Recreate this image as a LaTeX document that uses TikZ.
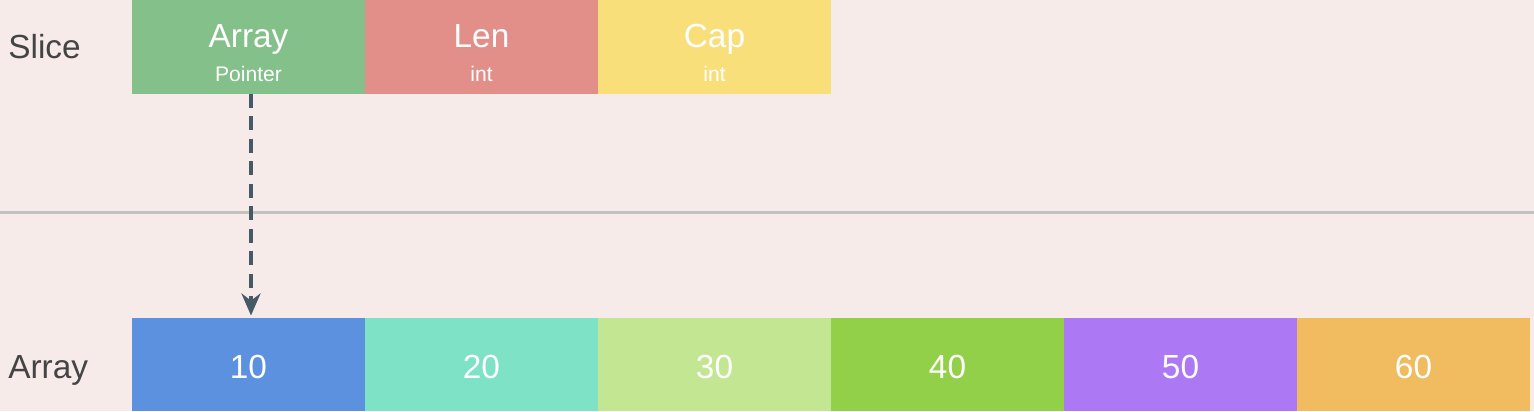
\documentclass[tikz,border=0pt]{standalone}
\usepackage{fontspec}
\setmainfont{Liberation Sans}
\usepackage{xcolor}
\usetikzlibrary{arrows.meta, positioning, calc}

\definecolor{bgpink}{HTML}{F6EBE9}
\definecolor{ptrgreen}{HTML}{84C08A}
\definecolor{lenred}{HTML}{E28F8A}
\definecolor{capyellow}{HTML}{F8DF7A}
\definecolor{elblue}{HTML}{5B91DE}
\definecolor{elteal}{HTML}{7DE2C6}
\definecolor{ellime}{HTML}{C3E693}
\definecolor{elgreen}{HTML}{93D04A}
\definecolor{elpurple}{HTML}{AD78F3}
\definecolor{elorange}{HTML}{F1BB5F}
\definecolor{arrowgray}{HTML}{455A64}
\definecolor{rulegray}{HTML}{C2C2C2}
\definecolor{labelgray}{HTML}{444444}

\begin{document}
\begin{tikzpicture}[
    node distance=0cm,
    cell/.style={rectangle, draw=none, inner sep=0pt, outer sep=0pt, minimum width=4.66cm, minimum height=1.87cm},
    maintext/.style={text=white, font=\fontsize{19}{21}\selectfont, inner sep=0pt, anchor=base},
    subtext/.style={text=white, font=\fontsize{12}{14}\selectfont, inner sep=0pt, anchor=base},
    rowlabel/.style={text=labelgray, font=\fontsize{19}{21}\selectfont, inner sep=0pt, anchor=base west},
    pointer/.style={-{Stealth[length=0.44cm, width=0.38cm]}, draw=arrowgray, line width=0.085cm, dash pattern=on 0.28cm off 0.17cm}
]

    % --- 背景 ---
    \fill [bgpink] (0,0) rectangle (30.68,8.22);
    \useasboundingbox (0,0) rectangle (30.68,8.22);

    % --- Slice 结构 ---
    \node [rowlabel] (slicelbl) at (0.16,7.06) {Slice};
    \node [cell, fill=ptrgreen] (sarr) at (4.97,7.28) {};
    \node [cell, fill=lenred] (slen) [right=of sarr] {};
    \node [cell, fill=capyellow] (scap) [right=of slen] {};

    \node [maintext] (sarrtxt) at ([yshift=-0.02cm]sarr.center) {Array};
    \node [subtext] (sarrsub) at ([yshift=-0.70cm]sarr.center) {Pointer};
    \node [maintext] (slentxt) at ([yshift=-0.02cm]slen.center) {Len};
    \node [subtext] (slensub) at ([yshift=-0.70cm]slen.center) {int};
    \node [maintext] (scaptxt) at ([yshift=-0.02cm]scap.center) {Cap};
    \node [subtext] (scapsub) at ([yshift=-0.70cm]scap.center) {int};

    % 分隔线
    \coordinate (ruleL) at (0,3.98);
    \coordinate (ruleR) at (30.68,3.98);
    \draw [rulegray, line width=0.06cm] (ruleL) -- (ruleR);

    % --- 底层数组 ---
    \node [rowlabel] (arrlbl) at (0.16,0.66) {Array};
    \node [cell, fill=elblue] (e10) at (4.97,0.935) {};
    \node [cell, fill=elteal] (e20) [right=of e10] {};
    \node [cell, fill=ellime] (e30) [right=of e20] {};
    \node [cell, fill=elgreen] (e40) [right=of e30] {};
    \node [cell, fill=elpurple] (e50) [right=of e40] {};
    \node [cell, fill=elorange] (e60) [right=of e50] {};

    \node [maintext] at ([yshift=-0.275cm]e10.center) (t10) {10};
    \node [maintext] at ([yshift=-0.275cm]e20.center) (t20) {20};
    \node [maintext] at ([yshift=-0.275cm]e30.center) (t30) {30};
    \node [maintext] at ([yshift=-0.275cm]e40.center) (t40) {40};
    \node [maintext] at ([yshift=-0.275cm]e50.center) (t50) {50};
    \node [maintext] at ([yshift=-0.275cm]e60.center) (t60) {60};

    % 指针
    \draw [pointer] ([xshift=0.05cm]sarr.south) -- ([xshift=0.05cm, yshift=0.04cm]e10.north);

\end{tikzpicture}
\end{document}
